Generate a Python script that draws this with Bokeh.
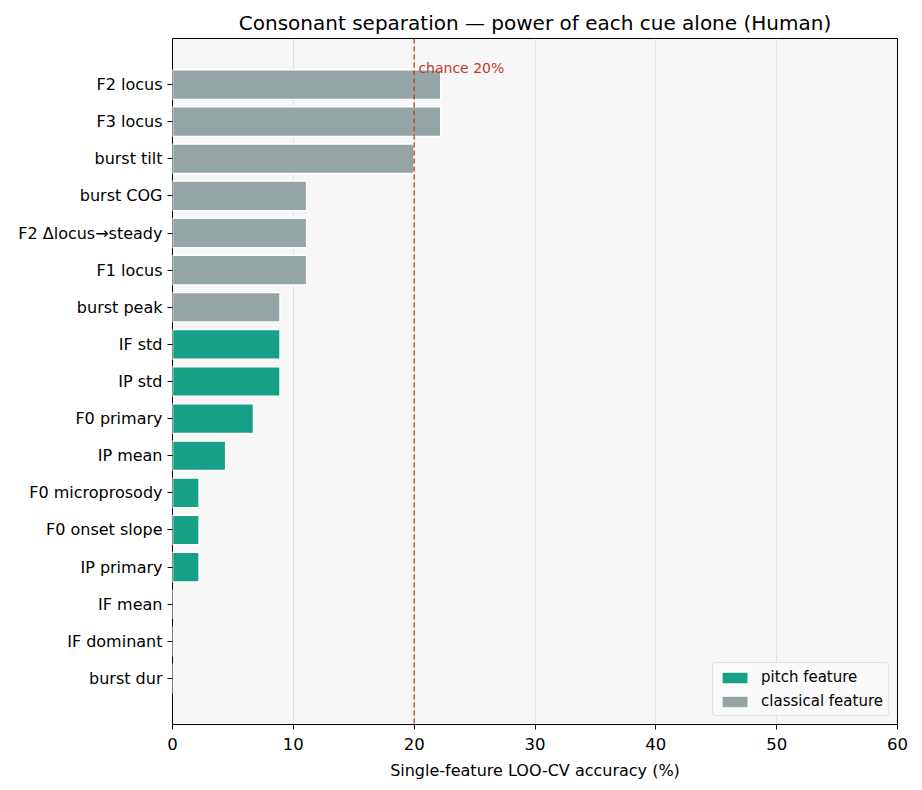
from bokeh.plotting import figure
from bokeh.models import Range1d, ColumnDataSource, Span, Label, Legend, LegendItem, FixedTicker
from bokeh.embed import file_html
from bokeh.resources import INLINE

features = ["F2 locus", "F3 locus", "burst tilt", "burst COG", "F2 \u0394locus\u2192steady",
            "F1 locus", "burst peak", "IF std", "IP std", "F0 primary", "IP mean",
            "F0 microprosody", "F0 onset slope", "IP primary", "IF mean", "IF dominant", "burst dur"]
accuracy = [22.2, 22.2, 20.0, 11.1, 11.1, 11.1, 8.9, 8.9, 8.9, 6.7, 4.4, 2.2, 2.2, 2.2, 0.0, 0.0, 0.0]
kind = ["classical", "classical", "classical", "classical", "classical", "classical", "classical",
        "pitch", "pitch", "pitch", "pitch", "pitch", "pitch", "pitch", "classical", "classical", "classical"]
x_ticks = [0, 10, 20, 30, 40, 50, 60]
chance = 20

PITCH = "#16a085"
CLASSIC = "#95a5a6"

n = len(features)
ypos = [n - 1 - i for i in range(n)]

FONT = "DejaVu Sans"

p = figure(width=922, height=790, output_backend="svg", toolbar_location=None,
           x_range=Range1d(0, 60), y_range=Range1d(-1.24, n - 1 + 1.24),
           min_border_left=172, min_border_right=25, min_border_top=38, min_border_bottom=66,
           title="Consonant separation \u2014 power of each cue alone (Human)")
p.title.text_font = FONT
p.title.text_font_size = "20px"
p.title.text_font_style = "normal"
p.title.text_color = "black"
p.title.align = "center"
p.title.offset = 0
p.title.standoff = 8
p.background_fill_color = "#f7f7f7"
p.border_fill_color = "white"
p.outline_line_color = "black"
p.outline_line_width = 1

src_p = ColumnDataSource(dict(y=[y for y, k in zip(ypos, kind) if k == "pitch"],
                              right=[a for a, k in zip(accuracy, kind) if k == "pitch"]))
src_c = ColumnDataSource(dict(y=[y for y, k in zip(ypos, kind) if k != "pitch"],
                              right=[a for a, k in zip(accuracy, kind) if k != "pitch"]))

rp = p.hbar(y="y", right="right", left=0, height=0.8, source=src_p,
            fill_color=PITCH, line_color="white", line_width=1.5)
rc = p.hbar(y="y", right="right", left=0, height=0.8, source=src_c,
            fill_color=CLASSIC, line_color="white", line_width=1.5)

p.add_layout(Span(location=chance, dimension="height", line_color="#c0392b",
                  line_dash="5 3", line_width=1.3))
p.add_layout(Label(x=chance + 0.35, y=n - 1 + 0.22, text="chance 20%", text_color="#c0392b",
                   text_font=FONT, text_font_size="14px", text_baseline="bottom"))

p.xaxis.ticker = FixedTicker(ticks=x_ticks)
p.yaxis.ticker = FixedTicker(ticks=ypos)
p.yaxis.major_label_overrides = {y: f for y, f in zip(ypos, features)}
p.xaxis.axis_label = "Single-feature LOO-CV accuracy (%)"
p.xaxis.axis_label_text_font = FONT
p.xaxis.axis_label_text_font_size = "16px"
p.xaxis.axis_label_text_font_style = "normal"
p.xaxis.axis_label_text_color = "black"
for ax in (p.xaxis, p.yaxis):
    ax.major_label_text_font = FONT
    ax.major_label_text_color = "black"
    ax.minor_tick_line_color = None
    ax.major_tick_in = 0
    ax.major_tick_out = 5
    ax.axis_line_color = None
    ax.major_tick_line_color = "black"
p.xaxis.major_label_text_font_size = "16.5px"
p.yaxis.major_label_text_font_size = "16px"
p.xaxis.major_label_standoff = 8
p.yaxis.major_label_standoff = 5
p.xaxis.axis_label_standoff = 8

p.ygrid.grid_line_color = None
p.xgrid.grid_line_color = "#e2e2e2"
p.xgrid.grid_line_width = 1

legend = Legend(items=[LegendItem(label="pitch feature", renderers=[rp]),
                       LegendItem(label="classical feature", renderers=[rc])],
                location="bottom_right")
legend.label_text_font = FONT
legend.label_text_font_size = "15px"
legend.label_text_color = "black"
legend.border_line_color = "#cccccc"
legend.border_radius = 4
legend.background_fill_color = "#f9f9f9"
legend.background_fill_alpha = 0.9
legend.glyph_width = 33
legend.glyph_height = 15
legend.label_height = 16
legend.label_standoff = 10
legend.spacing = 6
legend.padding = 5
legend.margin = 8
p.add_layout(legend)

open("out.html", "w").write(file_html(p, INLINE))
